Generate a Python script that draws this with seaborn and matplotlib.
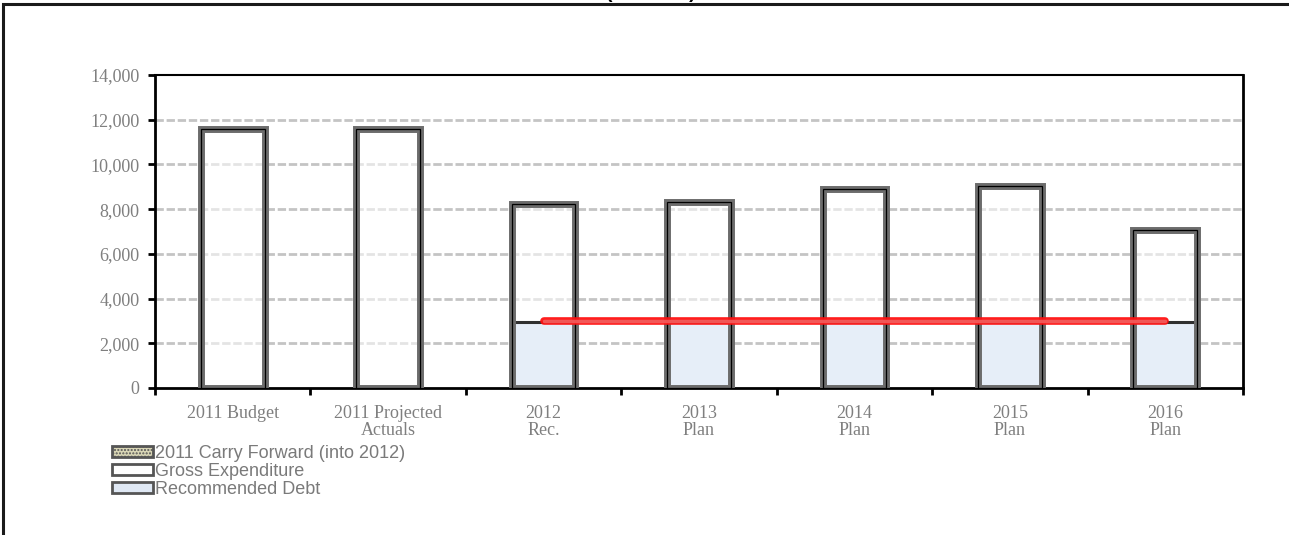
import numpy as np
import pandas as pd
import seaborn as sns
import matplotlib
matplotlib.use("Agg")
import matplotlib.pyplot as plt
from matplotlib.patches import Patch, Rectangle
import matplotlib.patheffects as pe

# ---- data ----
categories = ["2011 Budget", "2011 Projected\nActuals", "2012\nRec.", "2013\nPlan",
              "2014\nPlan", "2015\nPlan", "2016\nPlan"]
gross_expenditure = [11600, 11600, 8230, 8320, 8900, 9030, 7080]
recommended_debt = [np.nan, np.nan, 2950, 2950, 2950, 2950, 2950]
carry_forward = [np.nan, np.nan, 0, np.nan, np.nan, np.nan, np.nan]
debt_target = [np.nan, np.nan, 3000, 3000, 3000, 3000, 3000]
yticks = [0, 2000, 4000, 6000, 8000, 10000, 12000, 14000]
legend_labels = ["2011 Carry Forward (into 2012)", "Gross Expenditure", "Recommended Debt"]
title_text = "(In $000s)"

sns.set_theme(style="white")
plt.rcParams["font.family"] = ["Liberation Serif", "DejaVu Serif"]

fig = plt.figure(figsize=(12.89, 5.35), dpi=100)
ax = fig.add_axes([155/1289, 1-388/535, (1243-155)/1289, (388-75)/535])

df = pd.DataFrame({"cat": categories, "gross": gross_expenditure,
                   "debt": recommended_debt, "target": debt_target})

W = 0.41
gray_edge = [pe.Stroke(linewidth=5, foreground="#6c6c6c"), pe.Normal()]

# gross expenditure bars (semi-transparent white fill)
sns.barplot(data=df, x="cat", y="gross", order=categories, ax=ax, width=W,
            color="white", saturation=1, zorder=2)
for p in ax.patches:
    p.set_facecolor((1, 1, 1, 0.55))
    p.set_edgecolor("none")
n_gross = len(ax.patches)

# recommended debt bars
dd = df.dropna(subset=["debt"])
sns.barplot(data=dd, x="cat", y="debt", order=categories, ax=ax, width=W,
            color="#e6eef8", saturation=1, zorder=3)
for p in ax.patches[n_gross:]:
    p.set_edgecolor("#303030")
    p.set_linewidth(2.2)
    p.set_zorder(3)
n_all = len(ax.patches)

# gross outline on top
sns.barplot(data=df, x="cat", y="gross", order=categories, ax=ax, width=W,
            color="white", saturation=1, zorder=4)
for p in ax.patches[n_all:]:
    p.set_facecolor("none")
    p.set_edgecolor("black")
    p.set_linewidth(0.9)
    p.set_zorder(4)
    p.set_path_effects(gray_edge)

# red debt target line
xs = np.arange(len(categories))
ax.plot(xs, debt_target, color="#ff1010", lw=5.5, solid_capstyle="round", zorder=5, alpha=0.95)
ax.plot(xs, debt_target, color="#f06868", lw=2.5, solid_capstyle="round", zorder=6, alpha=0.8)

# axes formatting
ax.set_xlim(-0.5, len(categories) - 0.5)
ax.set_ylim(0, 14000)
ax.set_yticks(yticks)
ax.set_yticklabels([f"{v:,}" for v in yticks])
ax.set_xticks(xs)
ax.set_xticklabels(categories)
ax.set_xticks(np.arange(-0.5, len(categories)), minor=True)
ax.set_xlabel("")
ax.set_ylabel("")
ax.tick_params(axis="x", which="major", length=0, pad=12, labelsize=13, labelcolor="#7f7f7f")
ax.tick_params(axis="x", which="minor", length=5, width=2, color="black", direction="out", bottom=True)
ax.tick_params(axis="y", which="major", length=5, width=2, color="black", direction="out",
               left=True, pad=6, labelsize=13, labelcolor="#7f7f7f")
for lab in ax.get_xticklabels():
    lab.set_linespacing(1.05)

for y in yticks[1:-1]:
    ax.axhline(y, color="#c4c4c4", lw=2, ls=(0, (3, 1)), zorder=1)

for s in ax.spines.values():
    s.set_visible(True)
    s.set_color("black")
    s.set_linewidth(2)
ax.spines["top"].set_linewidth(1.5)

# legend
handles = [
    Patch(facecolor="#d9d6b5", edgecolor="#555555", lw=2, hatch="....."),
    Patch(facecolor="white", edgecolor="#555555", lw=2),
    Patch(facecolor="#dfe8f4", edgecolor="#555555", lw=2),
]
leg = fig.legend(handles, legend_labels, loc="upper left",
                 bbox_to_anchor=(112/1289, 1-445/535), frameon=False,
                 prop={"family": "Liberation Sans", "size": 13},
                 handlelength=2.25, handleheight=0.55, handletextpad=0.15,
                 labelspacing=0.05, borderaxespad=0, borderpad=0)
for t in leg.get_texts():
    t.set_color("#7a7a7a")

# outer chart frame
fig.patches.append(Rectangle((3/1289, -0.2), 1.2, 1.2 - 4/535, transform=fig.transFigure,
                             fill=False, edgecolor="#1a1a1a", lw=2.2, zorder=0))

# (clipped) title at the very top, as in the reference
fig.text(0.505, 1 + 2/535, title_text, ha="center", va="baseline",
         fontsize=14, fontweight="bold", family="Liberation Sans", color="black")

fig.savefig("out.png", dpi=100)
